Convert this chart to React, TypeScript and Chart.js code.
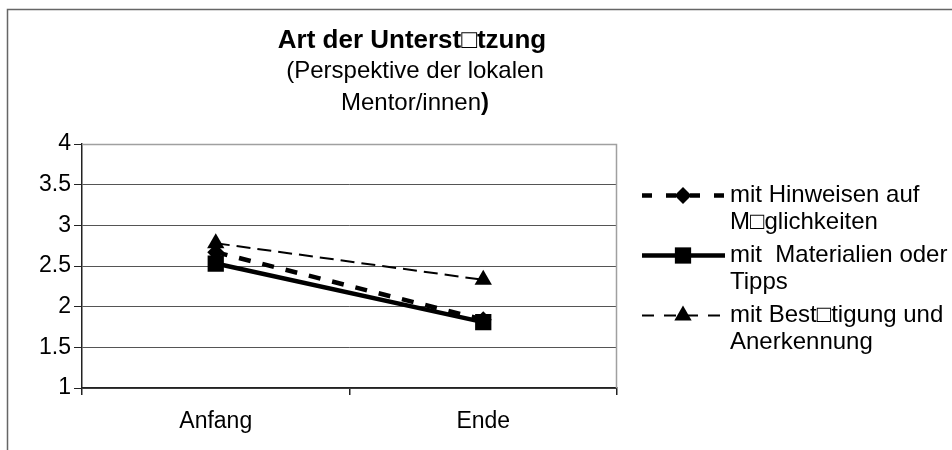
import React, { useEffect, useRef } from "react";
import { Chart, registerables } from "chart.js";

Chart.register(...registerables);

const categories = ["Anfang", "Ende"];
const hinweise = [2.67, 1.84];
const materialien = [2.53, 1.81];
const bestaetigung = [2.78, 2.33];
const yTicks = [1, 1.5, 2, 2.5, 3, 3.5, 4];
const legendLines = [
  ["mit Hinweisen auf", "M\u25A1glichkeiten"],
  ["mit  Materialien oder", "Tipps"],
  ["mit Best\u25A1tigung und", "Anerkennung"],
];
const titleText = "Art der Unterst\u25A1tzung";
const subtitleLines = ["(Perspektive der lokalen", "Mentor/innen"];

const FONT = '"Liberation Sans", Arial, sans-serif';

const decorPlugin = {
  id: "decor",
  beforeDraw(chart: any) {
    const ctx = chart.ctx;
    ctx.save();
    ctx.fillStyle = "#fff";
    ctx.fillRect(0, 0, chart.width, chart.height);
    ctx.strokeStyle = "#666";
    ctx.lineWidth = 1.5;
    ctx.beginPath();
    ctx.moveTo(7.5, chart.height);
    ctx.lineTo(7.5, 9.5);
    ctx.lineTo(chart.width, 9.5);
    ctx.stroke();
    ctx.restore();
  },
  beforeDatasetsDraw(chart: any) {
    const { ctx, chartArea } = chart;
    ctx.save();
    ctx.strokeStyle = "#a0a0a0";
    ctx.lineWidth = 1.5;
    ctx.beginPath();
    ctx.moveTo(chartArea.left, chartArea.top + 0.5);
    ctx.lineTo(chartArea.right - 0.5, chartArea.top + 0.5);
    ctx.lineTo(chartArea.right - 0.5, chartArea.bottom);
    ctx.stroke();
    ctx.restore();
  },
  afterDraw(chart: any) {
    const ctx = chart.ctx;
    ctx.save();
    ctx.fillStyle = "#000";
    ctx.textBaseline = "middle";
    // title
    const cx = 412;
    ctx.textAlign = "center";
    ctx.font = `bold 26px ${FONT}`;
    ctx.fillText(titleText, cx, 41);
    ctx.font = `24px ${FONT}`;
    ctx.fillText(subtitleLines[0], cx + 3, 71);
    const w1 = ctx.measureText(subtitleLines[1]).width;
    ctx.font = `bold 24px ${FONT}`;
    const w2 = ctx.measureText(")").width;
    const start = cx + 3 - (w1 + w2) / 2;
    ctx.textAlign = "left";
    ctx.font = `24px ${FONT}`;
    ctx.fillText(subtitleLines[1], start, 103);
    ctx.font = `bold 24px ${FONT}`;
    ctx.fillText(")", start + w1, 103);

    // legend
    const rows = [195.5, 255.5, 315.5];
    const x0 = 642;
    const x1 = 725;
    const mx = 683;
    chart.data.datasets.forEach((ds: any, i: number) => {
      const y = rows[i];
      ctx.save();
      ctx.strokeStyle = "#000";
      ctx.lineWidth = ds.borderWidth;
      ctx.setLineDash(ds.legendDash || []);
      ctx.lineCap = "butt";
      ctx.beginPath();
      ctx.moveTo(x0, y);
      ctx.lineTo(x1, y);
      ctx.stroke();
      ctx.restore();
      ctx.save();
      ctx.fillStyle = "#000";
      ctx.beginPath();
      const r = ds.pointRadius;
      if (ds.pointStyle === "rect") {
        const s = Math.SQRT1_2 * r;
        ctx.rect(mx - s, y - s, 2 * s, 2 * s);
      } else if (ds.pointStyle === "rectRot") {
        ctx.moveTo(mx - r, y);
        ctx.lineTo(mx, y - r);
        ctx.lineTo(mx + r, y);
        ctx.lineTo(mx, y + r);
        ctx.closePath();
      } else {
        const h = r * 1.5;
        const hw = (r * Math.sqrt(3)) / 2;
        ctx.moveTo(mx - hw, y + h / 3);
        ctx.lineTo(mx, y - (2 * h) / 3);
        ctx.lineTo(mx + hw, y + h / 3);
        ctx.closePath();
      }
      ctx.fill();
      ctx.restore();
      ctx.font = `24px ${FONT}`;
      ctx.textAlign = "left";
      ctx.fillStyle = "#000";
      ctx.fillText(legendLines[i][0], 730, y);
      ctx.fillText(legendLines[i][1], 730, y + 27);
    });
    ctx.restore();
  },
};

export default function App() {
  const ref = useRef<HTMLCanvasElement | null>(null);
  useEffect(() => {
    if (!ref.current) return;
    const tickFont = { family: FONT, size: 23 };
    const chart = new Chart(ref.current, {
      type: "line",
      data: {
        labels: categories,
        datasets: [
          {
            label: legendLines[0].join(" "),
            data: hinweise,
            borderColor: "#000",
            backgroundColor: "#000",
            borderWidth: 4.5,
            borderDash: [12, 12],
            legendDash: [10, 14],
            pointStyle: "rectRot",
            pointRadius: 8.5,
            pointBorderWidth: 0,
            tension: 0,
            order: 3,
          } as any,
          {
            label: legendLines[1].join(" "),
            data: materialien,
            borderColor: "#000",
            backgroundColor: "#000",
            borderWidth: 4.5,
            pointStyle: "rect",
            pointRadius: 11.5,
            pointBorderWidth: 0,
            tension: 0,
            order: 2,
          } as any,
          {
            label: legendLines[2].join(" "),
            data: bestaetigung,
            borderColor: "#000",
            backgroundColor: "#000",
            borderWidth: 2,
            borderDash: [14, 7],
            legendDash: [12, 10],
            pointStyle: "triangle",
            pointRadius: 10,
            pointBorderWidth: 0,
            tension: 0,
            order: 1,
          } as any,
        ],
      },
      options: {
        responsive: false,
        animation: false,
        devicePixelRatio: 1,
        layout: { padding: { top: 144, right: 335, bottom: 0, left: 0 } },
        plugins: {
          legend: { display: false },
          title: { display: false },
          tooltip: { enabled: false },
        },
        scales: {
          x: {
            offset: true,
            grid: {
              offset: true,
              drawOnChartArea: false,
              drawTicks: true,
              tickLength: 7,
              color: "#222",
              lineWidth: 1.5,
            },
            border: { color: "#222", width: 1.5 },
            ticks: { color: "#000", font: tickFont, padding: 13 },
            afterFit: (s: any) => {
              s.height = 62;
            },
          },
          y: {
            min: 1,
            max: 4,
            afterBuildTicks: (s: any) => {
              s.ticks = yTicks.map((v) => ({ value: v }));
            },
            grid: {
              color: (c: any) => (c.tick && c.tick.value === 4 ? "#a0a0a0" : "#555"),
              tickColor: "#222",
              tickLength: 8,
              lineWidth: 1,
            },
            border: { color: "#222", width: 1.5 },
            ticks: {
              color: "#000",
              font: tickFont,
              padding: 3,
              callback: (v: any) => String(v),
            },
            afterFit: (s: any) => {
              s.width = 82;
            },
          },
        },
      } as any,
      plugins: [decorPlugin],
    });
    return () => chart.destroy();
  }, []);
  return (
    <div style={{ position: "fixed", left: 0, top: 0, width: 952, height: 450, background: "#fff" }}>
      <canvas ref={ref} width={952} height={450} style={{ display: "block", width: 952, height: 450 }} />
    </div>
  );
}
